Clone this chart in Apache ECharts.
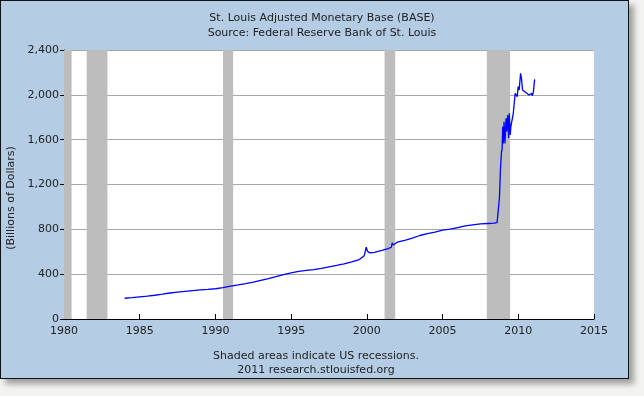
<!DOCTYPE html>
<html>
<head>
<meta charset="UTF-8">
<title>St. Louis Adjusted Monetary Base</title>
<style>
    body { margin: 0; background: #f3f3f1; }
    .panel {
        position: absolute; left: 0; top: 0;
        width: 627px; height: 377px;
        background: #b4cde4;
        border: 1px solid #111;
        box-shadow: 5px 5px 6px rgba(0,0,0,0.35);
    }
    #chart { position: absolute; left: 0; top: 0; width: 644px; height: 396px; }
</style>
<script src="https://cdn.jsdelivr.net/npm/echarts@6/dist/echarts.min.js"></script>
</head>
<body>
<div class="panel"></div>
<div id="chart"></div>
<script>
// 数据 (decimal year, billions of dollars)
const dates = [
    1984.0, 1984.5, 1985.0, 1985.5, 1986.0, 1986.5, 1987.0, 1987.5, 1988.0, 1988.5,
    1989.0, 1989.5, 1990.0, 1990.5, 1991.0, 1991.5, 1992.0, 1992.5, 1993.0, 1993.5,
    1994.0, 1994.5, 1995.0, 1995.5, 1996.0, 1996.5, 1997.0, 1997.5, 1998.0, 1998.5,
    1999.0, 1999.5, 1999.83, 1999.96, 2000.04, 2000.2, 2000.5, 2000.8, 2001.0, 2001.4,
    2001.62, 2001.67, 2001.75, 2002.0, 2002.5, 2003.0, 2003.5, 2004.0, 2004.5, 2005.0,
    2005.5, 2006.0, 2006.5, 2007.0, 2007.5, 2008.0, 2008.4, 2008.6, 2008.69, 2008.76,
    2008.82, 2008.89, 2008.93, 2008.97, 2009.01, 2009.06, 2009.12, 2009.19, 2009.23, 2009.3,
    2009.36, 2009.41, 2009.47, 2009.51, 2009.58, 2009.67, 2009.73, 2009.8, 2009.89, 2009.93,
    2009.99, 2010.06, 2010.15, 2010.21, 2010.28, 2010.37, 2010.5, 2010.6, 2010.71, 2010.8,
    2010.89, 2010.93, 2011.0, 2011.08
];
const values = [
    185, 190, 197, 204, 212, 221, 232, 240, 247, 254,
    260, 264, 270, 280, 293, 304, 316, 330, 345, 360,
    378, 396, 412, 425, 433, 440, 452, 465, 478, 492,
    510, 530, 565, 640, 605, 590, 595, 605, 612, 628,
    640, 680, 660, 685, 702, 722, 745, 762, 776, 792,
    802, 816, 830, 840, 848, 852, 855, 860, 870, 1091,
    1329, 1490, 1508, 1716, 1567, 1760, 1567, 1790, 1671, 1820,
    1612, 1835, 1641, 1716, 1716, 1835, 1924, 2013, 2028, 1984,
    2073, 2043, 2192, 2147, 2043, 2028, 2020, 2028, 1998, 1984,
    2013, 1990, 2028, 2138
];
// NBER recessions
const recessionStart = [1980.0, 1981.5, 1990.5, 2001.17, 2007.92];
const recessionEnd   = [1980.5, 1982.87, 1991.17, 2001.87, 2009.46];

const xTicks = [1980, 1985, 1990, 1995, 2000, 2005, 2010, 2015];

const FONT = 'DejaVu Sans';
const TXT = '#222';

const chart = echarts.init(document.getElementById('chart'));

chart.setOption({
    backgroundColor: 'transparent',
    animation: false,
    textStyle: { fontFamily: FONT },
    title: {
        text: 'St. Louis Adjusted Monetary Base (BASE)\nSource: Federal Reserve Bank of St. Louis',
        left: 317, top: 6, textAlign: 'center',
        textStyle: { fontFamily: FONT, fontSize: 11, fontWeight: 'normal', color: TXT, lineHeight: 15 }
    },
    grid: { left: 64, right: 50, top: 50, bottom: 77 },
    xAxis: {
        type: 'value', min: 1980, max: 2015, interval: 5,
        axisLine: { show: true, lineStyle: { color: '#000', width: 1 } },
        axisTick: { show: true, inside: true, length: 5, lineStyle: { color: '#000' } },
        axisLabel: { color: TXT, fontSize: 11, margin: 7, formatter: v => xTicks.includes(v) ? String(v) : '' },
        splitLine: { show: false }
    },
    yAxis: {
        type: 'value', min: 0, max: 2400, interval: 400,
        axisLine: { show: true, lineStyle: { color: '#000', width: 1 } },
        axisTick: { show: true, length: 4, lineStyle: { color: '#000' } },
        axisLabel: { color: TXT, fontSize: 11, margin: 5, formatter: v => v.toLocaleString('en-US') },
        splitLine: { show: true, lineStyle: { color: '#a8a8a8', width: 1 } }
    },
    graphic: [
        { type: 'rect', shape: { x: 64, y: 50, width: 530, height: 269 }, style: { fill: '#fff' }, z: -10, silent: true },
        { type: 'text', x: 11, y: 198, rotation: Math.PI / 2,
          style: { text: '(Billions of Dollars)', font: '11px DejaVu Sans', fill: TXT, align: 'center', verticalAlign: 'middle' } },
        { type: 'text', x: 316, y: 356,
          style: { text: 'Shaded areas indicate US recessions.', font: '11px DejaVu Sans', fill: TXT, align: 'center', verticalAlign: 'middle' } },
        { type: 'text', x: 316, y: 370,
          style: { text: '2011 research.stlouisfed.org', font: '11px DejaVu Sans', fill: TXT, align: 'center', verticalAlign: 'middle' } }
    ],
    series: [
        {
            type: 'line', data: [], silent: true, z: 1,
            markArea: {
                silent: true,
                itemStyle: { color: '#bdbdbd', opacity: 1 },
                data: recessionStart.map((s, i) => [{ xAxis: s }, { xAxis: recessionEnd[i] }])
            }
        },
        {
            type: 'line', z: 3,
            data: dates.map((d, i) => [d, values[i]]),
            symbol: 'none',
            lineStyle: { color: '#0000ff', width: 1.3 }
        }
    ]
});
</script>
</body>
</html>
